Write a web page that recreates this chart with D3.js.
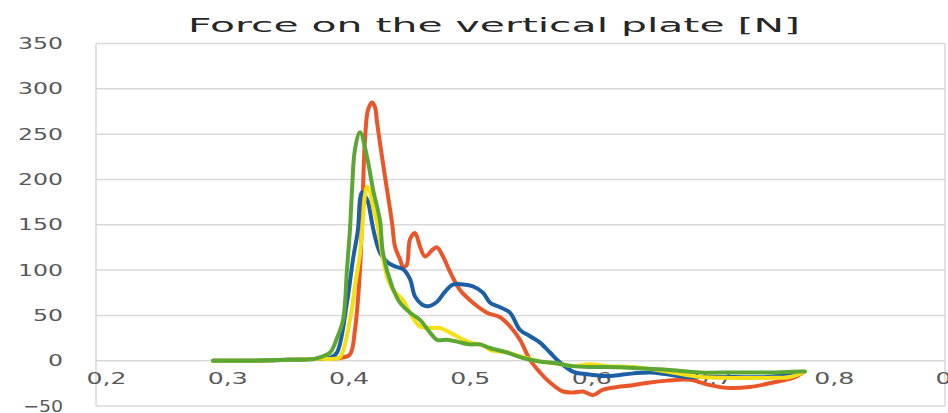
<!DOCTYPE html>
<html>
<head>
<meta charset="utf-8">
<script src="https://cdn.jsdelivr.net/npm/d3@7"></script>
<style>
  body { margin: 0; background: #fff; }
  svg { display: block; }
</style>
</head>
<body>
<svg class="chart" width="948" height="413"></svg>
<script>
// Values: [position, force N]
const blueSeries = [
  [0.2965, 0], [0.33, 0], [0.36, 1], [0.385, 2], [0.393, 3], [0.3987, 9], [0.4069, 64],
  [0.4119, 112], [0.416, 145], [0.4177, 178], [0.4193, 186], [0.4218, 182], [0.4243, 175],
  [0.4276, 152], [0.430, 137], [0.4342, 119], [0.4408, 108], [0.4465, 104], [0.4531, 101],
  [0.4589, 90], [0.463, 71], [0.4688, 62], [0.4737, 60], [0.4812, 65], [0.4877, 76],
  [0.4943, 84], [0.5026, 84], [0.5108, 82], [0.5191, 75], [0.5249, 64], [0.5331, 59],
  [0.5413, 53], [0.5496, 34], [0.5578, 27], [0.5661, 20], [0.5743, 9], [0.5826, -2],
  [0.5933, -12], [0.6048, -15], [0.6213, -17], [0.6428, -14], [0.6568, -13], [0.6708, -15],
  [0.6873, -18], [0.7038, -18], [0.7252, -18], [0.7532, -18], [0.7804, -13]
];
const orangeSeries = [
  [0.2965, 0], [0.33, 0], [0.36, 1], [0.385, 2], [0.4012, 3], [0.4094, 7], [0.4135, 34],
  [0.4177, 101], [0.4201, 189], [0.4218, 244], [0.4243, 277], [0.4276, 285], [0.430, 280],
  [0.4317, 263], [0.4358, 225], [0.4399, 189], [0.4441, 152], [0.4465, 126], [0.4506, 112],
  [0.4531, 104], [0.456, 105], [0.4589, 134], [0.463, 141], [0.4671, 126], [0.4713, 115],
  [0.4779, 123], [0.4812, 125], [0.4861, 115], [0.4919, 98], [0.5001, 78], [0.5108, 64],
  [0.5224, 53], [0.5331, 48], [0.5413, 38], [0.5496, 23], [0.5578, 1], [0.5661, -13],
  [0.5743, -24], [0.585, -34], [0.5933, -35], [0.6015, -34], [0.6098, -38], [0.618, -32],
  [0.6296, -29], [0.6428, -27], [0.6568, -24], [0.6708, -22], [0.6898, -21], [0.7062, -27],
  [0.7203, -30], [0.7392, -29], [0.7582, -24], [0.7747, -19], [0.7829, -13]
];
const yellowSeries = [
  [0.2965, 0], [0.33, 0], [0.36, 1], [0.385, 2], [0.395, 2], [0.4012, 4], [0.4094, 45],
  [0.4135, 82], [0.4177, 119], [0.4201, 156], [0.4218, 183], [0.4234, 192], [0.4259, 187],
  [0.4284, 170], [0.4317, 152], [0.4358, 119], [0.4399, 93], [0.4449, 78], [0.4531, 67],
  [0.4605, 49], [0.4671, 38], [0.4754, 36], [0.4836, 36], [0.4919, 31], [0.5001, 25],
  [0.5084, 20], [0.5191, 17], [0.5249, 12], [0.5389, 9], [0.5521, 4], [0.5661, -1],
  [0.5801, -3], [0.5933, -6], [0.6073, -4], [0.6213, -6], [0.6428, -7], [0.6708, -12],
  [0.698, -18], [0.7252, -19], [0.7532, -19], [0.7722, -18], [0.7829, -13]
];
const greenSeries = [
  [0.2965, 0], [0.33, 0], [0.36, 1], [0.38, 2], [0.385, 4], [0.393, 9], [0.3987, 25],
  [0.4037, 45], [0.4069, 100], [0.4094, 145], [0.4111, 189], [0.4135, 233], [0.4177, 252],
  [0.4234, 225], [0.4284, 189], [0.4342, 154], [0.4366, 119], [0.4441, 82], [0.4506, 64],
  [0.4589, 53], [0.4671, 45], [0.4754, 31], [0.4812, 23], [0.4894, 23], [0.4976, 21],
  [0.5084, 18], [0.5166, 18], [0.5249, 14], [0.5389, 9], [0.5521, 3], [0.5661, -1],
  [0.5801, -3], [0.5933, -6], [0.6073, -7], [0.6213, -7], [0.6428, -8], [0.6708, -10],
  [0.698, -13], [0.7252, -13], [0.7532, -13], [0.7804, -12], [0.7846, -12]
];

const xTicks = [0.2, 0.3, 0.4, 0.5, 0.6, 0.7, 0.8, 0.9];
const yTicks = [-50, 0, 50, 100, 150, 200, 250, 300, 350];
const chartTitle = "Force on the vertical plate [N]";

const svg = d3.select(".chart");

const x = d3.scaleLinear().domain([0.2, 0.9]).range([96, 945]);
const y = d3.scaleLinear().domain([-50, 350]).range([406, 43.5]);

// Gridlines
svg.append("g")
    .selectAll("line")
    .data(yTicks)
    .enter().append("line")
    .attr("x1", x(0.2))
    .attr("x2", x(0.9))
    .attr("y1", d => y(d))
    .attr("y2", d => y(d))
    .attr("stroke", "#d9d9d9")
    .attr("stroke-width", 1.5);

// Left axis line and right border
[0.2, 0.9].forEach(v => {
    svg.append("line")
        .attr("x1", x(v)).attr("x2", x(v))
        .attr("y1", y(350)).attr("y2", y(-50))
        .attr("stroke", "#d9d9d9")
        .attr("stroke-width", 1.5);
});

// Y axis labels
const yAxis = svg.append("g")
    .attr("transform", `translate(${x(0.2)},0)`)
    .call(d3.axisLeft(y).tickValues(yTicks).tickSize(0).tickPadding(33));
yAxis.select(".domain").remove();
yAxis.selectAll("text")
    .attr("font-family", "DejaVu Sans")
    .attr("font-size", 16)
    .attr("fill", "#595959")
    .attr("textLength", d => d < 0 ? 40 : (String(d).length * 15))
    .attr("lengthAdjust", "spacingAndGlyphs");

// X axis labels (Excel puts them just under the zero line)
const xAxis = svg.append("g")
    .attr("transform", `translate(10,${y(0)})`)
    .call(d3.axisBottom(x).tickValues(xTicks).tickSize(0).tickPadding(12)
        .tickFormat(d => d3.format(".1f")(d).replace(".", ",")));
xAxis.select(".domain").remove();
xAxis.selectAll("text")
    .attr("font-family", "DejaVu Sans")
    .attr("font-size", 16)
    .attr("fill", "#595959")
    .attr("textLength", 40)
    .attr("lengthAdjust", "spacingAndGlyphs");

// Title
svg.append("text")
    .attr("x", 494)
    .attr("y", 32)
    .attr("text-anchor", "middle")
    .attr("font-family", "DejaVu Sans")
    .attr("font-size", 19)
    .attr("fill", "#262626")
    .attr("textLength", 612)
    .attr("lengthAdjust", "spacingAndGlyphs")
    .text(chartTitle);

// Lines
const line = d3.line()
    .x(d => x(d[0]))
    .y(d => y(d[1]))
    .curve(d3.curveCatmullRom.alpha(0.5));

const series = [
    { values: orangeSeries, color: "#e9562a" },
    { values: blueSeries, color: "#1c5fa6" },
    { values: yellowSeries, color: "#f5df16" },
    { values: greenSeries, color: "#5ca634" }
];

svg.append("g")
    .selectAll("path")
    .data(series)
    .enter().append("path")
    .attr("d", d => line(d.values))
    .attr("fill", "none")
    .attr("stroke", d => d.color)
    .attr("stroke-width", 4)
    .attr("stroke-linejoin", "round")
    .attr("stroke-linecap", "round");
</script>
</body>
</html>
